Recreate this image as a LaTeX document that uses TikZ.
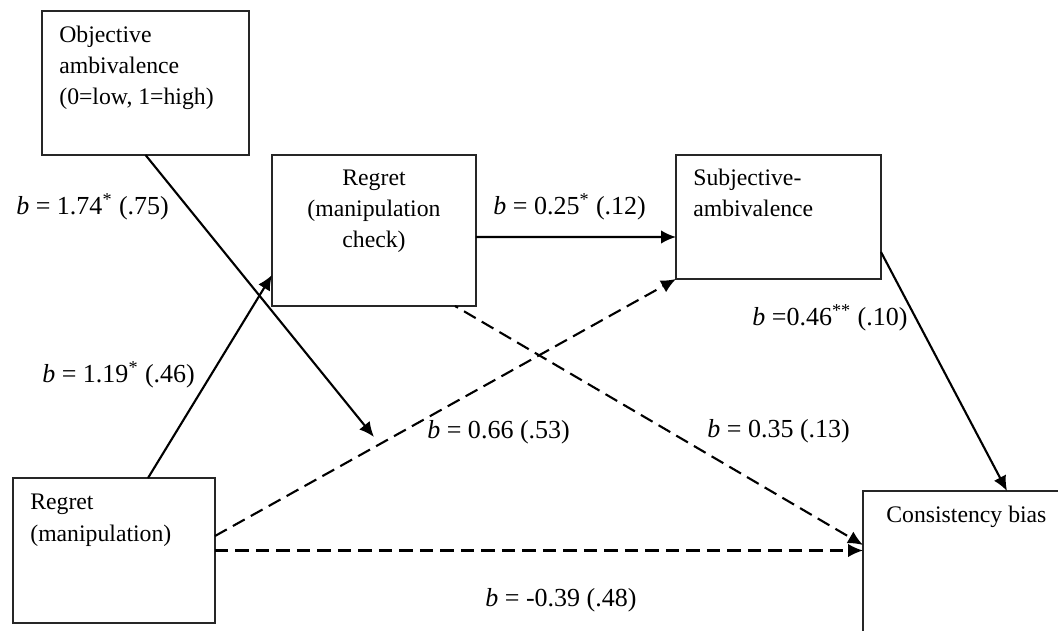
\documentclass[tikz,border=0pt]{standalone}
\usepackage{fontspec}
\setmainfont{Liberation Serif}
\usetikzlibrary{arrows.meta}

\begin{document}
\begin{tikzpicture}[x=0.02cm,y=-0.02cm,
  box/.style={draw=black!85,line width=1.1pt,inner sep=0pt,outer sep=0pt},
  boxtext/.style={inner sep=0pt,font=\fontsize{13.5}{17.9}\selectfont},
  coef/.style={inner sep=0pt,anchor=west,font=\fontsize{14.8}{17.8}\selectfont},
  arr/.style={line width=1.2pt,-{Latex[length=0.3cm,width=0.27cm]}},
  dasharr/.style={arr,dash pattern=on 0.27cm off 0.14cm}]

\clip (0,0) rectangle (1058,631);

\node [box, minimum width=4.14cm, minimum height=2.88cm] (objbox) at (145.5,83) {};
\node [box, minimum width=4.08cm, minimum height=3.02cm] (chkbox) at (374,230.5) {};
\node [box, minimum width=4.1cm, minimum height=2.48cm] (subbox) at (778.5,217) {};
\node [box, minimum width=4.04cm, minimum height=2.9cm] (manbox) at (114,550.5) {};
\node [box, minimum width=4.14cm, minimum height=3.38cm] (biasbox) at (966.5,575.5) {};

% multi-line texts: base is the last line
\node [boxtext, anchor=base west, align=left] (objtext) at (59,105) {Objective\\ambivalence\\(0=low, 1=high)};
\node [boxtext, anchor=base, align=center] (chktext) at (374,248) {Regret\\(manipulation\\check)};
\node [boxtext, anchor=base west, align=left] (subtext) at (693,217) {Subjective-\\ambivalence};
\node [boxtext, anchor=base west, align=left] (mantext) at (30,541) {Regret\\(manipulation)};
\node [boxtext, anchor=base west] (biastext) at (886,522) {Consistency bias};

\coordinate (modtip) at (374,437);

\draw [arr] (objbox.south) -- (modtip);
\draw [arr] ([shift={(34,0)}]manbox.north) -- ([shift={(0,44.5)}]chkbox.west);
\draw [arr] ([shift={(0,6.5)}]chkbox.east) -- ([shift={(0,20)}]subbox.west);
\draw [arr] ([shift={(0,35)}]subbox.east) -- ([shift={(40.5,0)}]biasbox.north);
\draw [dasharr] ([shift={(0,-14.5)}]manbox.east) -- (subbox.south west);
\draw [dasharr] (manbox.east) -- (manbox.east -| biasbox.west);
\draw [dasharr, dash phase=0.2cm] ([shift={(-21,0)}]chkbox.south east) -- ([shift={(0,-30.5)}]biasbox.west);

\node [coef] (c174) at (16,207) {\textit{b} = 1.74\textsuperscript{*} (.75)};
\node [coef] (c119) at (42,375) {\textit{b} = 1.19\textsuperscript{*} (.46)};
\node [coef] (c025) at (493,207) {\textit{b} = 0.25\textsuperscript{*} (.12)};
\node [coef] (c046) at (752,318) {\textit{b} =0.46\textsuperscript{**} (.10)};
\node [coef] (c066) at (427,432) {\textit{b} = 0.66 (.53)};
\node [coef] (c035) at (707,431) {\textit{b} = 0.35 (.13)};
\node [coef] (c039) at (485,600) {\textit{b} = -0.39 (.48)};

\end{tikzpicture}
\end{document}
